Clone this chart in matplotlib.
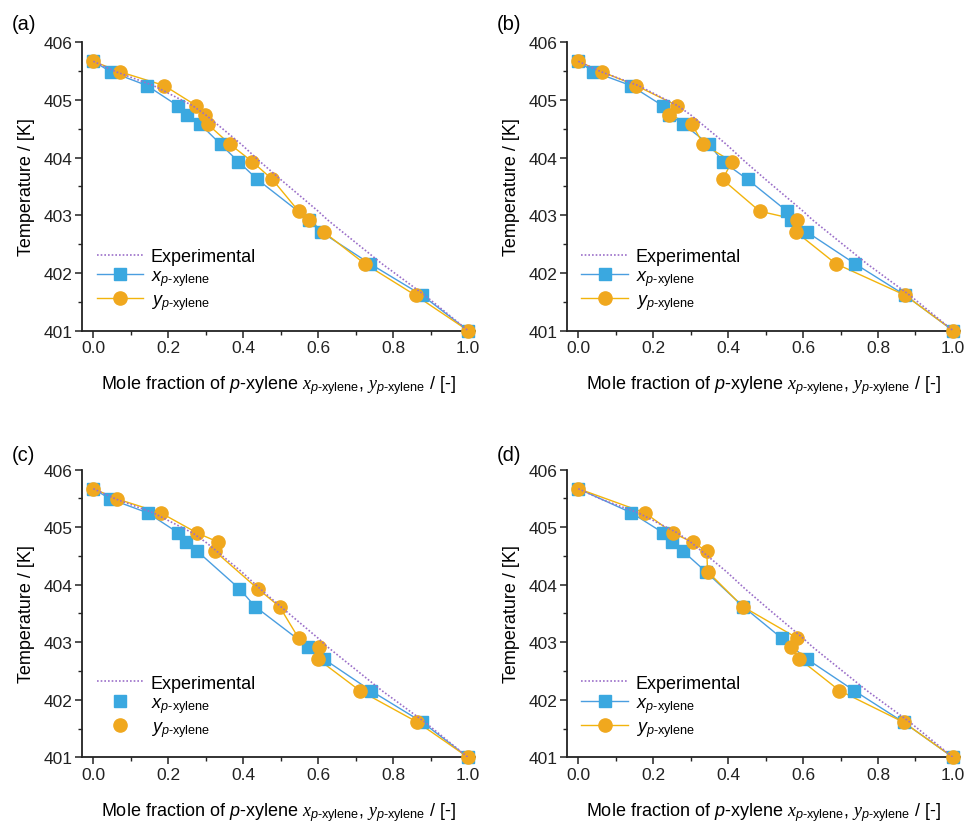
import matplotlib
matplotlib.use("Agg")
import matplotlib.pyplot as plt
from matplotlib.ticker import MultipleLocator
from matplotlib.lines import Line2D

plt.rcParams['font.family'] = ['Liberation Sans', 'DejaVu Sans']
plt.rcParams['mathtext.fontset'] = 'custom'
plt.rcParams['mathtext.rm'] = 'Liberation Sans'
plt.rcParams['mathtext.it'] = 'Liberation Serif:italic'
plt.rcParams['mathtext.bf'] = 'Liberation Sans:italic'
plt.rcParams['mathtext.sf'] = 'Liberation Sans'

# ---------------- data ----------------
exp_x = [0.0, 0.06, 0.16, 0.265, 0.30, 0.33, 0.395, 0.445, 0.50, 0.60, 0.625, 0.665, 0.77, 0.885, 1.0]
exp_T = [405.67, 405.49, 405.25, 404.90, 404.74, 404.58, 404.23, 403.93, 403.62, 403.07, 402.92, 402.71, 402.16, 401.61, 401.0]

# panel (a)
a_x_x = [0.0, 0.046, 0.143, 0.225, 0.251, 0.285, 0.340, 0.387, 0.438, 0.576, 0.608, 0.738, 0.878, 1.0]
a_x_T = [405.67, 405.49, 405.25, 404.90, 404.74, 404.58, 404.23, 403.93, 403.62, 402.92, 402.71, 402.16, 401.61, 401.0]
a_y_x = [0.0, 0.070, 0.189, 0.275, 0.299, 0.305, 0.365, 0.424, 0.478, 0.548, 0.575, 0.615, 0.724, 0.860, 1.0]
a_y_T = [405.67, 405.49, 405.25, 404.90, 404.74, 404.58, 404.23, 403.93, 403.62, 403.07, 402.92, 402.71, 402.16, 401.61, 401.0]

# panel (b)
b_x_x = [0.0, 0.040, 0.140, 0.225, 0.243, 0.280, 0.349, 0.386, 0.452, 0.557, 0.567, 0.610, 0.738, 0.873, 1.0]
b_x_T = [405.67, 405.49, 405.25, 404.90, 404.74, 404.58, 404.23, 403.93, 403.62, 403.07, 402.92, 402.71, 402.16, 401.61, 401.0]
b_y_x = [0.0, 0.062, 0.154, 0.264, 0.243, 0.303, 0.334, 0.410, 0.385, 0.484, 0.585, 0.581, 0.687, 0.873, 1.0]
b_y_T = [405.67, 405.49, 405.25, 404.90, 404.74, 404.58, 404.23, 403.93, 403.62, 403.07, 402.92, 402.71, 402.16, 401.61, 401.0]

# panel (c)
c_x_x = [0.0, 0.045, 0.145, 0.227, 0.248, 0.278, 0.390, 0.432, 0.573, 0.615, 0.740, 0.878, 1.0]
c_x_T = [405.67, 405.49, 405.25, 404.90, 404.74, 404.58, 403.93, 403.62, 402.92, 402.71, 402.16, 401.61, 401.0]
c_y_x = [0.0, 0.064, 0.180, 0.277, 0.334, 0.325, 0.439, 0.497, 0.548, 0.602, 0.599, 0.711, 0.865, 1.0]
c_y_T = [405.67, 405.49, 405.25, 404.90, 404.74, 404.58, 403.93, 403.62, 403.07, 402.92, 402.71, 402.16, 401.61, 401.0]

# panel (d)
d_x_x = [0.0, 0.142, 0.227, 0.249, 0.280, 0.340, 0.440, 0.543, 0.610, 0.736, 0.868, 1.0]
d_x_T = [405.67, 405.25, 404.90, 404.74, 404.58, 404.23, 403.62, 403.07, 402.71, 402.16, 401.61, 401.0]
d_y_x = [0.0, 0.178, 0.252, 0.305, 0.343, 0.345, 0.439, 0.585, 0.568, 0.590, 0.697, 0.868, 1.0]
d_y_T = [405.67, 405.25, 404.90, 404.74, 404.58, 404.23, 403.62, 403.07, 402.92, 402.71, 402.16, 401.61, 401.0]

panel_labels = ['(a)', '(b)', '(c)', '(d)']
x_ticks = [0.0, 0.2, 0.4, 0.6, 0.8, 1.0]
y_ticks = [401, 402, 403, 404, 405, 406]

# ---------------- style ----------------
BLUE = '#3aa8e0'
BLUE_LINE = '#4a9ee0'
ORANGE = '#f0a81e'
ORANGE_LINE = '#f2b40c'
PURPLE = '#9b6fc9'

fig = plt.figure(figsize=(9.68, 8.29), dpi=100)

W, H = 0.4064, 0.3477
positions = [
    [0.0848, 0.6001, W, H],
    [0.5858, 0.6001, W, H],
    [0.0848, 0.0853, W, 0.3469],
    [0.5858, 0.0853, W, 0.3469],
]
label_pos = [(12, 25), (497, 25), (12, 456), (497, 456)]

panels = [
    (a_x_x, a_x_T, a_y_x, a_y_T, True),
    (b_x_x, b_x_T, b_y_x, b_y_T, True),
    (c_x_x, c_x_T, c_y_x, c_y_T, False),
    (d_x_x, d_x_T, d_y_x, d_y_T, True),
]

xlab = (r"Mole fraction of $\mathbf{p}$-xylene $x_{\mathbf{p}\text{-xylene}}$, "
        r"$y_{\mathbf{p}\text{-xylene}}$ / [-]")
leg_x = r"$\mathbf{x}_{\mathbf{p}\text{-xylene}}$"
leg_y = r"$\mathbf{y}_{\mathbf{p}\text{-xylene}}$"

for i, (pos, (xx, xT, yx, yT, lines_in_legend)) in enumerate(zip(positions, panels)):
    ax = fig.add_axes(pos)
    ax.plot(exp_x, exp_T, linestyle=(0, (1, 1.2)), color=PURPLE, lw=1.2, zorder=4)
    ax.plot(xx, xT, '-', color=BLUE_LINE, lw=1.0, zorder=2)
    ax.plot(yx, yT, '-', color=ORANGE_LINE, lw=1.0, zorder=2)
    ax.plot(xx, xT, 's', color=BLUE, ms=8, mec=BLUE, zorder=3, clip_on=False)
    ax.plot(yx, yT, 'o', color=ORANGE, ms=9.5, mec=ORANGE, zorder=3, clip_on=False)

    ax.set_xlim(-0.03, 1.02)
    ax.set_ylim(401, 406)
    ax.set_xticks(x_ticks)
    ax.set_xticklabels([f"{t:.1f}" for t in x_ticks])
    ax.set_yticks(y_ticks)
    ax.xaxis.set_minor_locator(MultipleLocator(0.1))
    ax.yaxis.set_minor_locator(MultipleLocator(0.5))
    ax.tick_params(which='major', direction='out', length=5, width=1.1, labelsize=12.5, pad=2, colors='#222222')
    ax.tick_params(which='minor', direction='out', length=3, width=1.0, colors='#222222')
    for side in ['top', 'right']:
        ax.spines[side].set_visible(False)
    for side in ['left', 'bottom']:
        ax.spines[side].set_linewidth(1.3)
        ax.spines[side].set_color('#222222')

    ax.set_ylabel('Temperature / [K]', fontsize=13, labelpad=6)
    ax.set_xlabel(xlab, fontsize=13, labelpad=13)

    ls = '-' if lines_in_legend else 'none'
    handles = [
        Line2D([], [], linestyle=(0, (1, 1.2)), color=PURPLE, lw=1.2),
        Line2D([], [], linestyle=ls, color=BLUE_LINE, lw=1.0, marker='s', ms=8, mfc=BLUE, mec=BLUE),
        Line2D([], [], linestyle=ls, color=ORANGE_LINE, lw=1.0, marker='o', ms=9.5, mfc=ORANGE, mec=ORANGE),
    ]
    ax.legend(handles, ['Experimental', leg_x, leg_y], loc='lower left',
              bbox_to_anchor=(0.0, 0.015), frameon=False, fontsize=13,
              handlelength=2.6, handletextpad=0.4, labelspacing=0.15, borderpad=0.3)

    fig.text(label_pos[i][0] / 968, 1 - label_pos[i][1] / 829, panel_labels[i],
             fontsize=14.5, ha='left', va='center')

fig.savefig('out.png', dpi=100)
